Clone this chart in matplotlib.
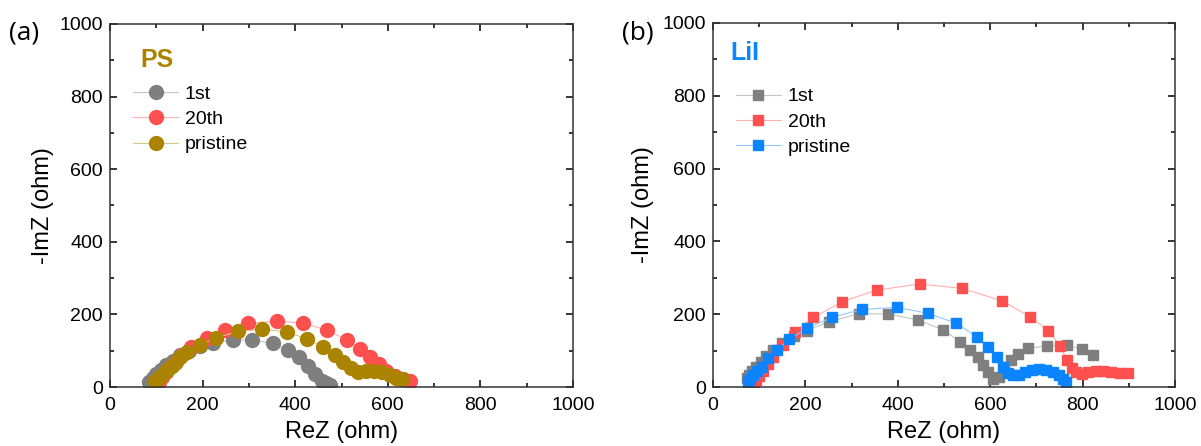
import numpy as np
from matplotlib import pyplot as plt
from matplotlib import colors as mcolors

plt.rcParams['font.family'] = ['Liberation Sans', 'DejaVu Sans']

# panel (a) PS, circles
ps_1st_x = [85, 92, 100, 110, 122, 136, 152, 170, 195, 223, 265, 306, 351, 385, 409, 428, 443, 457, 466, 475]
ps_1st_y = [15, 25, 35, 47, 60, 73, 87, 100, 112, 121, 130, 130, 120, 102, 82, 59, 36, 17, 10, 6]
ps_20th_x = [100, 105, 112, 120, 130, 142, 156, 176, 209, 248, 299, 360, 416, 468, 511, 540, 562, 580, 597, 616, 632, 648]
ps_20th_y = [5, 15, 27, 40, 55, 70, 88, 109, 134, 157, 175, 182, 176, 157, 130, 104, 82, 63, 45, 31, 22, 17]
ps_pri_x = [97, 105, 112, 119, 126, 133, 140, 151, 166, 194, 230, 277, 328, 382, 425, 461, 486, 504, 520, 535, 552, 570, 588, 604, 618, 630]
ps_pri_y = [17, 25, 33, 41, 49, 57, 66, 82, 97, 115, 136, 153, 159, 152, 132, 109, 88, 70, 52, 42, 43, 45, 42, 34, 26, 22]

# panel (b) LiI, squares
lii_1st_x = [73, 78, 85, 93, 103, 115, 130, 150, 175, 203, 250, 315, 379, 444, 498, 535, 556, 574, 585, 596, 606, 618, 630, 645, 660, 682, 722, 766, 798, 823]
lii_1st_y = [24, 33, 44, 56, 70, 86, 103, 122, 140, 155, 179, 201, 201, 184, 157, 125, 102, 83, 60, 42, 22, 28, 55, 74, 91, 106, 113, 115, 104, 88]
lii_20th_x = [88, 93, 100, 108, 118, 130, 152, 177, 217, 279, 354, 447, 538, 625, 686, 726, 751, 766, 776, 786, 798, 812, 828, 845, 862, 880, 899]
lii_20th_y = [8, 18, 30, 45, 62, 82, 115, 152, 191, 234, 266, 283, 271, 237, 193, 155, 113, 74, 51, 40, 36, 40, 43, 44, 41, 38, 38]
lii_pri_x = [76, 80, 87, 95, 105, 120, 139, 165, 203, 257, 322, 398, 466, 527, 571, 596, 614, 627, 639, 650, 662, 675, 690, 705, 720, 735, 748, 757, 763]
lii_pri_y = [15, 22, 33, 44, 56, 79, 103, 131, 161, 191, 213, 219, 202, 175, 138, 109, 83, 56, 38, 32, 33, 40, 47, 50, 48, 42, 32, 22, 15]

labels = ['1st', '20th', 'pristine']
gray = '#7f7f7f'
red = '#ff5050'
gold = '#aa8400'
blue = '#0a84ff'


def light(c, f=0.55):
    # blend the colour toward white for the thin connecting lines
    r, g, b = mcolors.to_rgb(c)
    return (r + (1 - r) * f, g + (1 - g) * f, b + (1 - b) * f)


fig = plt.figure(figsize=(12.01, 4.46), dpi=100)
ax1 = fig.add_axes([110/1201, 1-387/446, 463/1201, 363/446])
ax2 = fig.add_axes([713/1201, 1-387/446, 462/1201, 364/446])


def style(ax):
    ax.set_xlim(0, 1000)
    ax.set_ylim(0, 1000)
    ax.xaxis.set_major_locator(plt.MultipleLocator(200))
    ax.xaxis.set_minor_locator(plt.MultipleLocator(100))
    ax.yaxis.set_major_locator(plt.MultipleLocator(200))
    ax.yaxis.set_minor_locator(plt.MultipleLocator(100))
    ax.tick_params(which='both', direction='in', top=True, right=True,
                   labelsize=14, width=1.1)
    ax.tick_params(axis='x', pad=7)
    ax.tick_params(axis='y', pad=5)
    ax.tick_params(which='major', length=5)
    ax.tick_params(which='minor', length=3)
    for s in ax.spines.values():
        s.set_linewidth(1.1)
        s.set_color('#333333')
    ax.set_xlabel('ReZ (ohm)', fontsize=17, labelpad=5)


series1 = [(ps_1st_x, ps_1st_y, gray), (ps_20th_x, ps_20th_y, red), (ps_pri_x, ps_pri_y, gold)]
for (x, y, c), lab in zip(series1, labels):
    ax1.plot(x, y, '-', color=light(c), lw=0.8, marker='o', ms=10,
             mec=c, mfc=c, label=lab)
series2 = [(lii_1st_x, lii_1st_y, gray), (lii_20th_x, lii_20th_y, red), (lii_pri_x, lii_pri_y, blue)]
for (x, y, c), lab in zip(series2, labels):
    ax2.plot(x, y, '-', color=light(c), lw=0.8, marker='s', ms=7.5,
             mec=c, mfc=c, label=lab)

for ax, top in ((ax1, 0.832), (ax2, 0.822)):
    style(ax)
    ax.legend(loc='upper left', bbox_to_anchor=(0.05, top), frameon=False,
              fontsize=14, handlelength=2.3, handletextpad=0.35,
              labelspacing=0.4, borderaxespad=0, borderpad=0)

ax1.set_ylabel('-ImZ (ohm)', fontsize=17, labelpad=4)
ax2.set_ylabel('-ImZ (ohm)', fontsize=17, labelpad=6)

ax1.text(0.065, 0.90, 'PS', transform=ax1.transAxes, color=gold,
         fontsize=18, fontweight='bold', va='center')
ax2.text(0.037, 0.918, 'LiI', transform=ax2.transAxes, color=blue,
         fontsize=18, fontweight='bold', va='center')

fig.text(9/1201, 1-33/446, '(a)', fontsize=19, va='center', family='Open Sans')
fig.text(622/1201, 1-33/446, '(b)', fontsize=19, va='center', family='Open Sans')

fig.savefig('out.png', dpi=100)
